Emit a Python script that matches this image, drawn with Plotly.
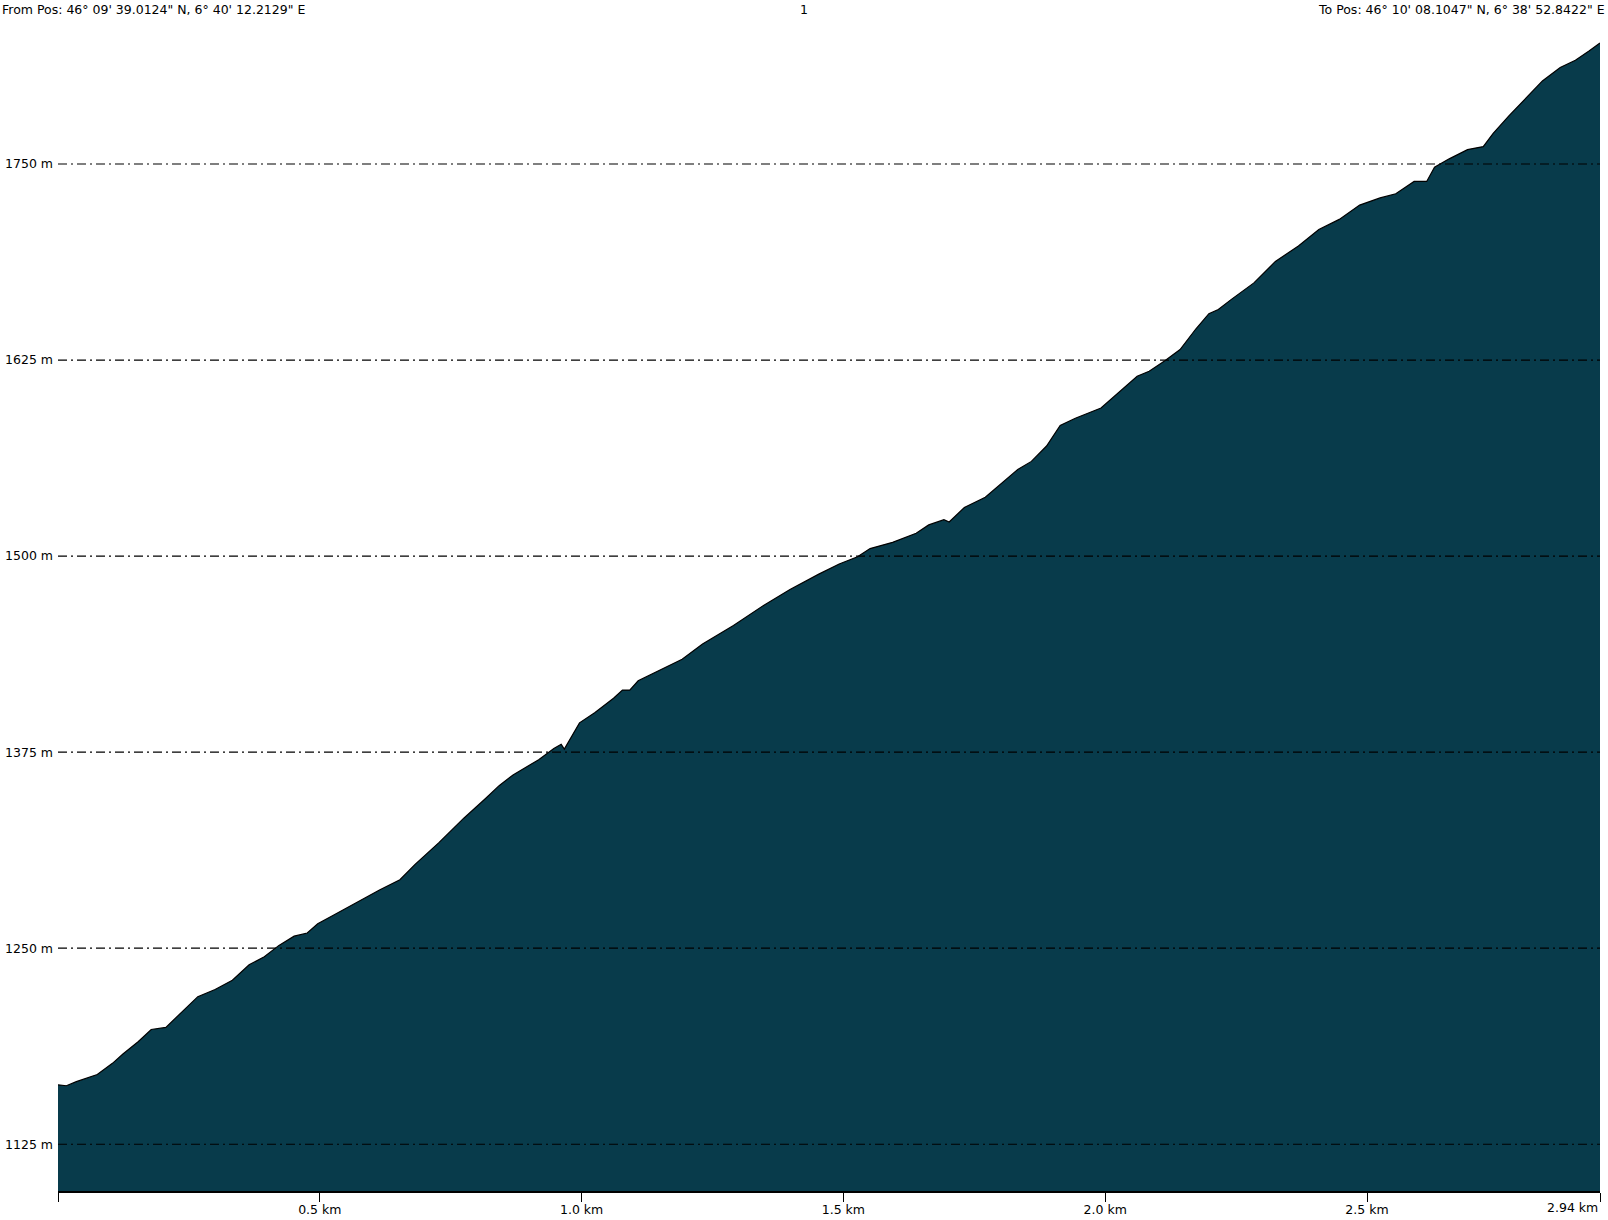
import plotly.graph_objects as go

# Distance (km) and elevation (m) read from the profile
dist_km = [0.0, 0.016, 0.035, 0.075, 0.104, 0.124, 0.153, 0.178, 0.206, 0.231,
           0.267, 0.300, 0.333, 0.365, 0.394, 0.422, 0.451, 0.476, 0.496, 0.525,
           0.571, 0.614, 0.653, 0.682, 0.727, 0.775, 0.816, 0.843, 0.869, 0.918,
           0.947, 0.961, 0.967, 0.996, 1.025, 1.061, 1.078, 1.092, 1.108, 1.153,
           1.192, 1.231, 1.290, 1.349, 1.398, 1.453, 1.492, 1.527, 1.551, 1.594,
           1.639, 1.663, 1.692, 1.702, 1.731, 1.771, 1.800, 1.833, 1.859, 1.888,
           1.914, 1.943, 1.992, 2.025, 2.061, 2.084, 2.114, 2.143, 2.173, 2.198,
           2.216, 2.241, 2.284, 2.325, 2.369, 2.408, 2.447, 2.486, 2.525, 2.555,
           2.590, 2.614, 2.629, 2.657, 2.692, 2.722, 2.741, 2.771, 2.804, 2.835,
           2.869, 2.898, 2.924, 2.945]
elev_m = [1162.9, 1162.3, 1164.9, 1169.5, 1176.6, 1182.5, 1190.4, 1198.2, 1199.5, 1207.4,
          1219.1, 1223.7, 1229.6, 1239.4, 1244.6, 1251.8, 1257.7, 1259.7, 1265.6, 1270.8,
          1279.3, 1287.1, 1293.7, 1303.5, 1317.2, 1332.9, 1345.3, 1353.8, 1360.4, 1370.2,
          1377.4, 1380.0, 1377.0, 1393.7, 1400.2, 1409.4, 1414.6, 1414.6, 1420.5, 1427.7,
          1434.2, 1444.0, 1455.8, 1468.9, 1478.7, 1488.5, 1495.0, 1499.6, 1504.8, 1508.8,
          1514.6, 1519.9, 1523.2, 1521.8, 1531.0, 1537.5, 1546.0, 1555.2, 1560.4, 1570.2,
          1583.3, 1587.9, 1594.4, 1604.2, 1614.7, 1617.9, 1624.5, 1631.7, 1644.8, 1654.6,
          1657.2, 1663.7, 1674.2, 1687.9, 1697.7, 1708.2, 1714.7, 1723.8, 1728.4, 1731.0,
          1738.9, 1738.9, 1748.0, 1753.3, 1759.2, 1761.1, 1769.6, 1780.7, 1792.5, 1803.0,
          1811.5, 1816.1, 1822.0, 1827.1]

y_ticks = [1125, 1250, 1375, 1500, 1625, 1750]
x_ticks = [0.0, 0.5, 1.0, 1.5, 2.0, 2.5]
x_tick_text = ["", "0.5 km", "1.0 km", "1.5 km", "2.0 km", "2.5 km"]
x_end = 2.945
x_end_label = "2.94 km"

title_left = "From Pos: 46° 09' 39.0124\" N, 6° 40' 12.2129\" E"
title_mid = "1"
title_right = "To Pos: 46° 10' 08.1047\" N, 6° 38' 52.8422\" E"

FONT = "DejaVu Sans"
FSIZE = 12.5
FILL = "#083b4b"

W, H = 1608, 1220
ml, mr, mt, mb = 58, 8, 42, 29


def px_x(px):
    return (px - ml) / (W - ml - mr)


def px_y(py):
    return (H - mb - py) / (H - mt - mb)


fig = go.Figure()
fig.add_trace(go.Scatter(
    x=dist_km, y=elev_m, mode="lines", fill="tozeroy",
    fillcolor=FILL, line=dict(color="black", width=1.2),
    hoverinfo="skip", showlegend=False))

for v in y_ticks:
    fig.add_shape(type="line", xref="paper", x0=0, x1=1, yref="y", y0=v, y1=v,
                  line=dict(color="black", width=1.2, dash="9px,4px,2px,4px"),
                  layer="above")

fig.add_annotation(x=x_end, y=0, xref="x", yref="paper", text=x_end_label,
                   showarrow=False, xanchor="right", yanchor="top", yshift=-7,
                   font=dict(family=FONT, size=FSIZE, color="black"))

for txt, xa, xp in [(title_left, "left", 0), (title_mid, "center", 804),
                    (title_right, "right", 1607)]:
    fig.add_annotation(x=px_x(xp), y=px_y(10), xref="paper", yref="paper", text=txt,
                       showarrow=False, xanchor=xa, yanchor="middle",
                       font=dict(family=FONT, size=FSIZE, color="black"))

fig.update_layout(
    width=W, height=H,
    margin=dict(l=ml, r=mr, t=mt, b=mb, autoexpand=False),
    paper_bgcolor="white", plot_bgcolor="white",
    font=dict(family=FONT, size=FSIZE, color="black"),
    xaxis=dict(range=[0, x_end], tickvals=x_ticks + [x_end], ticktext=x_tick_text + [""],
               ticks="outside", ticklen=9, tickcolor="black", tickwidth=1,
               showline=True, linecolor="black", linewidth=1.5,
               ticklabelstandoff=-3,
               showgrid=False, zeroline=False, fixedrange=True, automargin=False),
    yaxis=dict(range=[1095.2, 1827.8], tickvals=y_ticks,
               ticktext=[f"{v} m" for v in y_ticks],
               ticks="", showline=False, showgrid=False, zeroline=False,
               ticklabelstandoff=4, fixedrange=True, automargin=False),
)

fig.write_html("out.html", config={"displayModeBar": False},
               post_script="document.body.style.margin='0';document.body.style.overflow='hidden';")
